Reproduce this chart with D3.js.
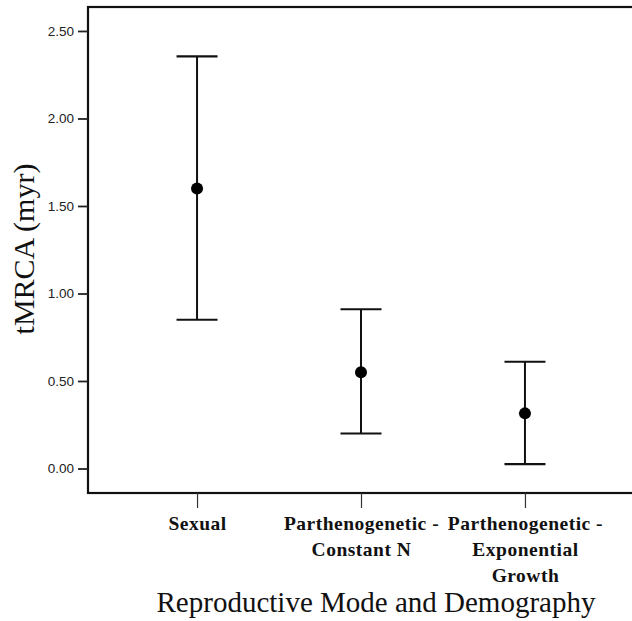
<!DOCTYPE html>
<html>
<head>
<meta charset="utf-8">
<script src="https://cdn.jsdelivr.net/npm/d3@7"></script>
<style>
  body { margin: 0; background: #fff; }
  svg { display: block; }
</style>
</head>
<body>
<div id="chart"></div>
<script>
// data
const categories = ["Sexual", "Parthenogenetic - Constant N", "Parthenogenetic - Exponential Growth"];
const labelLines = [["Sexual"], ["Parthenogenetic -", "Constant N"], ["Parthenogenetic -", "Exponential", "Growth"]];
const means = [1.60, 0.55, 0.315];
const lower = [0.85, 0.20, 0.025];
const upper = [2.355, 0.91, 0.61];
const yTicks = [0, 0.5, 1.0, 1.5, 2.0, 2.5];

const dataset = categories.map((c, i) => ({
  cat: c, lines: labelLines[i], mean: means[i], lo: lower[i], hi: upper[i]
}));

let dimensions = {
  width: 632,
  height: 621,
  margin: { top: 7, bottom: 128, left: 88, right: -2 }
};
dimensions.containerWidth = dimensions.width - dimensions.margin.left - dimensions.margin.right;
dimensions.containerHeight = dimensions.height - dimensions.margin.top - dimensions.margin.bottom;

const svg = d3.select("#chart").append("svg")
  .attr("width", dimensions.width)
  .attr("height", dimensions.height);

const container = svg.append("g")
  .attr("transform", `translate(${dimensions.margin.left}, ${dimensions.margin.top})`);

const xScale = d3.scalePoint()
  .domain(categories)
  .range([0, dimensions.containerWidth])
  .padding(0.665);

const yScale = d3.scaleLinear()
  .domain([-0.14, 2.637])
  .range([dimensions.containerHeight, 0]);

// frame (right side runs off the page)
container.append("rect")
  .attr("x", 0).attr("y", 0)
  .attr("width", dimensions.containerWidth)
  .attr("height", dimensions.containerHeight)
  .attr("fill", "none")
  .attr("stroke", "#111")
  .attr("stroke-width", 2.2);

// y axis
const yAxis = d3.axisLeft(yScale)
  .tickValues(yTicks)
  .tickFormat(d3.format(".2f"))
  .tickSize(10)
  .tickPadding(4);

const yAxisGroup = container.append("g").call(yAxis);
yAxisGroup.select(".domain").remove();
yAxisGroup.selectAll(".tick line").attr("stroke", "#222").attr("stroke-width", 1.8);
yAxisGroup.selectAll(".tick text")
  .attr("fill", "#222")
  .style("font-family", "'Liberation Sans', Arial, sans-serif")
  .style("font-size", "13.5px");

// x axis
const xAxis = d3.axisBottom(xScale).tickSize(15).tickFormat("");
const xAxisGroup = container.append("g")
  .attr("transform", `translate(0, ${dimensions.containerHeight})`)
  .call(xAxis);
xAxisGroup.select(".domain").remove();
xAxisGroup.selectAll(".tick line").attr("stroke", "#333").attr("stroke-width", 1.2);

// category labels, wrapped
xAxisGroup.selectAll(".tick")
  .data(dataset)
  .append("text")
  .attr("fill", "#111")
  .attr("text-anchor", "middle")
  .style("font-family", "'Liberation Serif', 'Times New Roman', serif")
  .style("font-weight", "bold")
  .style("font-size", "19.5px")
  .style("letter-spacing", "0.5px")
  .selectAll("tspan")
  .data(d => d.lines)
  .join("tspan")
  .attr("x", 0)
  .attr("y", (d, i) => 37 + i * 26)
  .text(d => d);

// error bars
const capHalf = 20.5;
const bars = container.selectAll(".bar")
  .data(dataset)
  .join("g")
  .attr("class", "bar")
  .attr("transform", d => `translate(${xScale(d.cat)}, 0)`);

bars.append("line")
  .attr("x1", 0).attr("x2", 0)
  .attr("y1", d => yScale(d.hi))
  .attr("y2", d => yScale(d.lo))
  .attr("stroke", "#111")
  .attr("stroke-width", 2);

bars.append("line")
  .attr("x1", -capHalf).attr("x2", capHalf)
  .attr("y1", d => yScale(d.hi))
  .attr("y2", d => yScale(d.hi))
  .attr("stroke", "#111")
  .attr("stroke-width", 2.2);

bars.append("line")
  .attr("x1", -capHalf).attr("x2", capHalf)
  .attr("y1", d => yScale(d.lo))
  .attr("y2", d => yScale(d.lo))
  .attr("stroke", "#111")
  .attr("stroke-width", 2.2);

bars.append("circle")
  .attr("cx", 0)
  .attr("cy", d => yScale(d.mean))
  .attr("r", 6)
  .attr("fill", "#000");

// axis titles
svg.append("text")
  .attr("transform", "translate(34, 249) rotate(-90)")
  .attr("text-anchor", "middle")
  .attr("fill", "#111")
  .style("font-family", "'Liberation Serif', 'Times New Roman', serif")
  .style("font-size", "30px")
  .text("tMRCA (myr)");

svg.append("text")
  .attr("x", 376)
  .attr("y", 612)
  .attr("text-anchor", "middle")
  .attr("fill", "#111")
  .style("font-family", "'Liberation Serif', 'Times New Roman', serif")
  .style("font-size", "29px")
  .text("Reproductive Mode and Demography");
</script>
</body>
</html>
